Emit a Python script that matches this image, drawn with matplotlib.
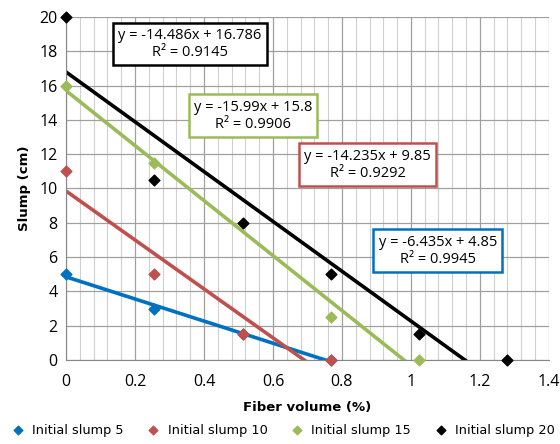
import matplotlib
matplotlib.use("Agg")
import matplotlib.pyplot as plt
import numpy as np
from matplotlib.ticker import MultipleLocator

fiber = [0.0, 0.256, 0.512, 0.768, 1.024, 1.28]
slump5 = [5, 3, 1.5, 0]
slump10 = [11, 5, 1.5, 0]
slump15_x = [0.0, 0.256, 0.768, 1.024]
slump15 = [16, 11.5, 2.5, 0]
slump20 = [20, 10.5, 8, 5, 1.5, 0]

names = ["Initial slump 5", "Initial slump 10", "Initial slump 15", "Initial slump 20"]
colors = ["#0070C0", "#C0504D", "#9BBB59", "#000000"]
eq_text = ["y = -6.435x + 4.85\nR² = 0.9945",
           "y = -14.235x + 9.85\nR² = 0.9292",
           "y = -15.99x + 15.8\nR² = 0.9906",
           "y = -14.486x + 16.786\nR² = 0.9145"]
eq_pos = [(1.078, 6.36), (0.875, 11.37), (0.542, 14.23), (0.359, 18.42)]

series = [(fiber[:4], slump5), (fiber[:4], slump10), (slump15_x, slump15), (fiber, slump20)]

fig = plt.figure(figsize=(5.6, 4.44), dpi=100)
ax = fig.add_axes([0.118, 0.189, 0.862, 0.773])

ax.set_xlim(0, 1.4)
ax.set_ylim(0, 20)
ax.xaxis.set_minor_locator(MultipleLocator(0.04))
ax.grid(which="major", color="#A0A0A0", linewidth=0.9)
ax.grid(which="minor", axis="x", color="#D0D0D0", linewidth=0.8)
ax.set_axisbelow(True)
for s in ax.spines.values():
    s.set_visible(False)
ax.spines["left"].set_visible(True)
ax.spines["left"].set_color("#868686")
ax.spines["bottom"].set_visible(True)
ax.spines["bottom"].set_color("#868686")
ax.tick_params(which="both", length=0, pad=6)
ax.tick_params(axis="x", pad=10)
ax.set_xticks(np.arange(0, 1.41, 0.2))
ax.set_xticklabels(["0", "0.2", "0.4", "0.6", "0.8", "1", "1.2", "1.4"], fontfamily="Open Sans", fontsize=11.5)
ax.set_yticks(np.arange(0, 21, 2))
ax.set_yticklabels([str(v) for v in range(0, 21, 2)], fontfamily="Open Sans", fontsize=11.5)

handles = []
for (xs, ys), c, name in zip(series, colors, names):
    xs = np.array(xs); ys = np.array(ys)
    k, b = np.polyfit(xs, ys, 1)
    xx = np.linspace(xs.min(), xs.max(), 50)
    ax.plot(xx, k * xx + b, color=c, linewidth=2.6, zorder=2)
    h = ax.scatter(xs, ys, marker="D", s=30, color=c, zorder=3, clip_on=False, label=name)
    handles.append(h)

for t, (px, py), c in zip(eq_text, eq_pos, colors):
    ax.text(px, py, t, ha="center", va="center", fontsize=10.5, fontfamily="Open Sans",
            linespacing=1.25, zorder=5,
            bbox=dict(boxstyle="square,pad=0.35", facecolor="white", edgecolor=c, linewidth=1.8))

ax.set_xlabel("Fiber volume (%)", fontsize=9.5, fontweight="bold", labelpad=8)
ax.set_ylabel("Slump (cm)", fontsize=9.5, fontweight="bold", labelpad=6)

fig.legend(handles=handles, loc="lower center", ncol=4, frameon=False,
           bbox_to_anchor=(0.5, -0.01), fontsize=9.3, handletextpad=0.1,
           columnspacing=1.3, markerscale=0.8)

fig.savefig("out.png", dpi=100)
